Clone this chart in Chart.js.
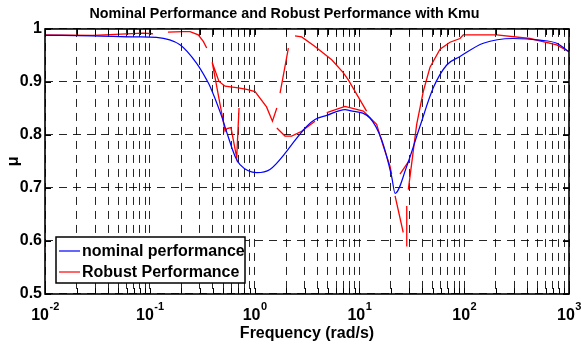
<!DOCTYPE html>
<html>
<head>
<meta charset="utf-8">
<script src="https://cdn.jsdelivr.net/npm/chart.js@4.4.1/dist/chart.umd.min.js"></script>
<style>
  body { margin: 0; background: #fff; }
  #myChart { display: block; }
</style>
</head>
<body>
<canvas id="myChart" width="581" height="347"></canvas>
<script>
    // nominal performance mu, read along frequency (rad/s)
    var nomFreq = [0.01, 0.0287, 0.0755, 0.116, 0.194, 0.280, 0.349, 0.375, 0.485, 0.557, 0.650, 0.726, 1.05, 1.40, 2.02, 2.26, 3.14, 3.77, 4.88, 7.29, 8.13, 12.6, 16.3, 20.3, 21.9, 28.3, 37.8, 50.7, 68.1, 91.2, 152, 294, 528, 763, 1000];
    var nomMu   = [0.988, 0.987, 0.985, 0.984, 0.970, 0.935, 0.904, 0.892, 0.835, 0.798, 0.760, 0.744, 0.729, 0.735, 0.769, 0.782, 0.816, 0.829, 0.837, 0.848, 0.846, 0.832, 0.791, 0.722, 0.690, 0.741, 0.816, 0.889, 0.932, 0.948, 0.973, 0.982, 0.979, 0.973, 0.957];

    // robust performance mu, broken into pieces (null = pen up)
    var robFreq = [
        0.01, 0.0287, 0.0867, 0.107, null,
        0.149, 0.207, 0.242, 0.290, 0.325, 0.349, null,
        0.394, 0.457, 0.523, 0.698, 0.841, 1.01, 1.30, 1.48, 1.63, null,
        0.394, 0.523, 0.546, 0.595, 0.675, 0.710, null,
        1.75, 2.10, null,
        2.43, 2.81, 3.77, 5.44, 6.98, 7.84, 11.7, null,
        1.63, 1.95, 2.26, 2.81, 3.77, null,
        4.88, 7.29, 10.9, 14.6, 16.9, 19.6, 20.3, null,
        21.9, 26.2, null,
        24.4, 30.4, null,
        27.9, 28.3, null,
        29.3, 35.2, 40.7, 47.2, 58.8, 73.2, 91.2, 98.0, 204, 424, 763, 1000
    ];
    var robMu = [
        0.989, 0.988, 0.992, 0.991, null,
        0.994, 0.995, 0.995, 0.989, 0.976, 0.964, null,
        0.937, 0.901, 0.892, 0.889, 0.886, 0.882, 0.853, 0.826, 0.851, null,
        0.937, 0.807, 0.812, 0.814, 0.757, 0.851, null,
        0.879, 0.964, null,
        0.987, 0.985, 0.967, 0.942, 0.918, 0.904, 0.845, null,
        0.813, 0.798, 0.798, 0.807, 0.826, null,
        0.842, 0.854, 0.845, 0.820, 0.779, 0.741, 0.726, null,
        0.685, 0.616, null,
        0.726, 0.754, null,
        0.591, 0.666, null,
        0.697, 0.820, 0.882, 0.928, 0.962, 0.975, 0.982, 0.989, 0.989, 0.982, 0.970, 0.957
    ];

    var decades = [-2, -1, 0, 1, 2, 3];
    var yTicks = [0.5, 0.6, 0.7, 0.8, 0.9, 1];
    var legendLabels = ['nominal performance', 'Robust Performance'];

    var FONT = '"Liberation Sans", Arial, Helvetica, sans-serif';

    // every 1..9 x 10^k position gets a grid line
    var gridX = [];
    for (var d = -2; d < 3; d++) {
        for (var m = 1; m < 10; m++) gridX.push(m * Math.pow(10, d));
    }
    gridX.push(1000);

    var nomData = nomFreq.map(function (f, i) { return {x: f, y: nomMu[i]}; });
    var robData = robFreq.map(function (f, i) {
        if (f === null) return {x: robFreq[i - 1], y: null};
        return {x: f, y: robMu[i]};
    });

    var frame = {
        id: 'frame',
        afterDraw: function (chart) {
            var ctx = chart.ctx, a = chart.chartArea;
            var xs = chart.scales.x, ys = chart.scales.y;
            ctx.save();
            ctx.strokeStyle = '#000';

            // inward tick marks
            ctx.lineWidth = 1;
            ctx.beginPath();
            gridX.forEach(function (v) {
                var px = Math.round(xs.getPixelForValue(v)) + 0.5;
                ctx.moveTo(px, a.bottom); ctx.lineTo(px, a.bottom - 6);
                ctx.moveTo(px, a.top); ctx.lineTo(px, a.top + 6);
            });
            yTicks.forEach(function (v) {
                var py = Math.round(ys.getPixelForValue(v)) + 0.5;
                ctx.moveTo(a.left, py); ctx.lineTo(a.left + 6, py);
                ctx.moveTo(a.right, py); ctx.lineTo(a.right - 6, py);
            });
            ctx.stroke();

            // box
            ctx.lineWidth = 1.6;
            ctx.strokeRect(a.left, a.top, a.right - a.left, a.bottom - a.top);

            // x tick labels as 10^n
            ctx.fillStyle = '#000';
            ctx.textBaseline = 'alphabetic';
            ctx.textAlign = 'left';
            decades.forEach(function (e) {
                var px = xs.getPixelForValue(Math.pow(10, e));
                ctx.font = 'bold 16px ' + FONT;
                var wBase = ctx.measureText('10').width;
                ctx.font = 'bold 11px ' + FONT;
                var sup = String(e);
                var wSup = ctx.measureText(sup).width;
                var x0 = px - (wBase + wSup) / 2;
                ctx.font = 'bold 16px ' + FONT;
                ctx.fillText('10', x0, 320);
                ctx.font = 'bold 11px ' + FONT;
                ctx.fillText(sup, x0 + wBase + 0.5, 310);
            });

            // legend box in the lower left corner
            var lx = 56, ly = 237, lw = 189, lh = 46;
            ctx.fillStyle = '#fff';
            ctx.fillRect(lx, ly, lw, lh);
            ctx.lineWidth = 1.5;
            ctx.strokeRect(lx, ly, lw, lh);
            chart.data.datasets.forEach(function (ds, i) {
                var yy = ly + 14 + i * 21;
                ctx.strokeStyle = ds.borderColor;
                ctx.lineWidth = 1.2;
                ctx.beginPath();
                ctx.moveTo(lx + 3, yy);
                ctx.lineTo(lx + 24, yy);
                ctx.stroke();
                ctx.fillStyle = '#000';
                ctx.font = 'bold 16px ' + FONT;
                ctx.textBaseline = 'middle';
                ctx.fillText(ds.label, lx + 26, yy + 1);
            });
            ctx.restore();
        }
    };

    var ctx = document.getElementById('myChart').getContext('2d');
    var myChart = new Chart(ctx, {
        type: 'line',
        data: {
            datasets: [{
                label: legendLabels[0],
                data: nomData,
                borderColor: '#0000ff',
                borderWidth: 1.2,
                pointRadius: 0,
                cubicInterpolationMode: 'monotone'
            }, {
                label: legendLabels[1],
                data: robData,
                borderColor: '#ff0000',
                borderWidth: 1.3,
                pointRadius: 0,
                tension: 0,
                spanGaps: false
            }]
        },
        options: {
            responsive: false,
            animation: false,
            devicePixelRatio: 1,
            layout: { padding: { left: 0, right: 12, top: 0, bottom: 0 } },
            scales: {
                x: {
                    type: 'logarithmic',
                    min: 0.01,
                    max: 1000,
                    afterBuildTicks: function (scale) {
                        scale.ticks = gridX.map(function (v) { return {value: v}; });
                    },
                    afterFit: function (scale) { scale.height = 53; },
                    ticks: { display: false },
                    grid: { color: 'rgba(0,0,0,0.85)', lineWidth: 1, drawTicks: false, tickLength: 0 },
                    border: { display: false, dash: [8, 6] },
                    title: {
                        display: true,
                        text: 'Frequency (rad/s)',
                        color: '#000',
                        font: { family: FONT, size: 16, weight: 'bold' },
                        padding: { top: 0, bottom: 4 }
                    }
                },
                y: {
                    type: 'linear',
                    min: 0.5,
                    max: 1,
                    afterBuildTicks: function (scale) {
                        scale.ticks = yTicks.map(function (v) { return {value: v}; });
                    },
                    afterFit: function (scale) { scale.width = 45; },
                    ticks: {
                        color: '#000',
                        padding: 3,
                        font: { family: FONT, size: 16, weight: 'bold' },
                        callback: function (v) { return v === 1 ? '1' : v.toFixed(1); }
                    },
                    grid: { color: 'rgba(0,0,0,0.85)', lineWidth: 1, drawTicks: false, tickLength: 0 },
                    border: { display: false, dash: [8, 6] },
                    title: {
                        display: true,
                        text: 'μ',
                        color: '#000',
                        font: { family: FONT, size: 16, weight: 'bold' },
                        padding: { top: 4, bottom: 0 }
                    }
                }
            },
            plugins: {
                legend: { display: false },
                tooltip: { enabled: false },
                title: {
                    display: true,
                    text: 'Nominal Performance and Robust Performance with Kmu',
                    color: '#000',
                    font: { family: FONT, size: 14.3, weight: 'bold' },
                    padding: { top: 5, bottom: 6.8 }
                }
            }
        },
        plugins: [frame]
    });
</script>
</body>
</html>
